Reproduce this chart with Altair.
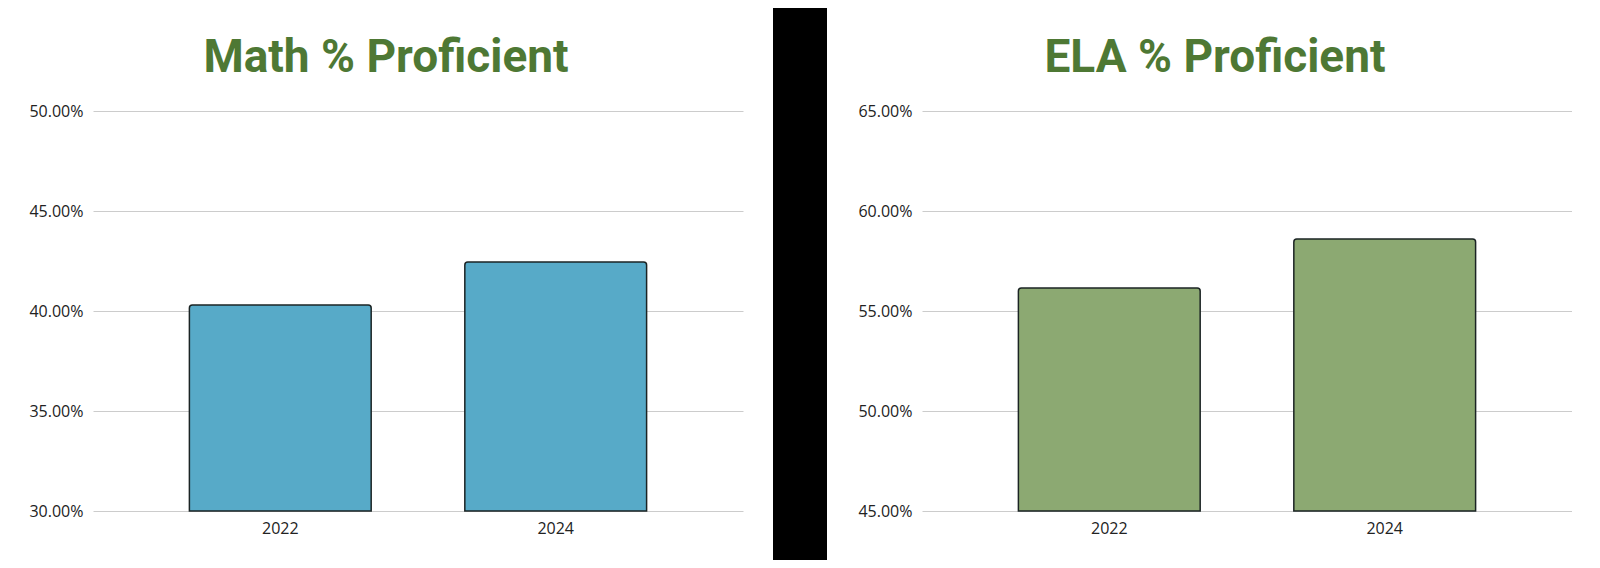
import altair as alt
import pandas as pd

# ---- data ----
years = ["2022", "2024"]
math_values = [0.403, 0.4245]
ela_values = [0.5615, 0.586]
math_ticks = [0.30, 0.35, 0.40, 0.45, 0.50]
ela_ticks = [0.45, 0.50, 0.55, 0.60, 0.65]
titles = ["Math % Proficient", "ELA % Proficient"]

TITLE_COLOR = "#4e7834"
MATH_COLOR = "#57aac8"
ELA_COLOR = "#8ca972"
LABEL_FONT = "Open Sans"


def panel(title, values, ticks, color, min_extent):
    df = pd.DataFrame({"Year": years, "Proficient": values})
    return (
        alt.Chart(
            df,
            title=alt.TitleParams(
                title,
                font="Roboto",
                fontSize=46,
                fontWeight="bold",
                color=TITLE_COLOR,
                offset=21,
                dx=-32,
                anchor="middle",
                frame="group",
            ),
        )
        .mark_bar(
            color=color,
            stroke="#1b2424",
            strokeWidth=1.5,
            cornerRadiusTopLeft=3,
            cornerRadiusTopRight=3,
        )
        .encode(
            x=alt.X(
                "Year:N",
                sort=years,
                title=None,
                scale=alt.Scale(paddingInner=0.34, paddingOuter=0.35),
                axis=alt.Axis(
                    labelAngle=0,
                    ticks=False,
                    domain=False,
                    labelPadding=9,
                    labelFont=LABEL_FONT,
                    labelFontSize=16,
                    labelColor="#222222",
                ),
            ),
            y=alt.Y(
                "Proficient:Q",
                title=None,
                scale=alt.Scale(domain=[ticks[0], ticks[-1]], zero=False, nice=False),
                axis=alt.Axis(
                    values=ticks,
                    format=".2%",
                    grid=True,
                    gridColor="#cccccc",
                    gridWidth=1,
                    domain=False,
                    ticks=False,
                    labelPadding=10,
                    minExtent=min_extent,
                    labelFont=LABEL_FONT,
                    labelFontSize=16,
                    labelColor="#222222",
                ),
            ),
            y2=alt.datum(ticks[0]),
        )
        .properties(width=650, height=400)
    )


left = panel(titles[0], math_values, math_ticks, MATH_COLOR, 85)
right = panel(titles[1], ela_values, ela_ticks, ELA_COLOR, 63)

# black separator band between the two panels (decoration, full page height)
band = (
    alt.Chart(pd.DataFrame({"v": [0]}))
    .mark_rect(color="black", clip=False)
    .encode(
        x=alt.value(0),
        x2=alt.value(54),
        y=alt.value(-103),
        y2=alt.value(449),
    )
    .properties(width=54, height=400)
)

chart = (
    alt.hconcat(left, band, right, spacing=30)
    .properties(padding=0, background="white")
    .configure_view(strokeWidth=0)
)

chart.save("out.html", embed_options={"renderer": "svg", "actions": False})
